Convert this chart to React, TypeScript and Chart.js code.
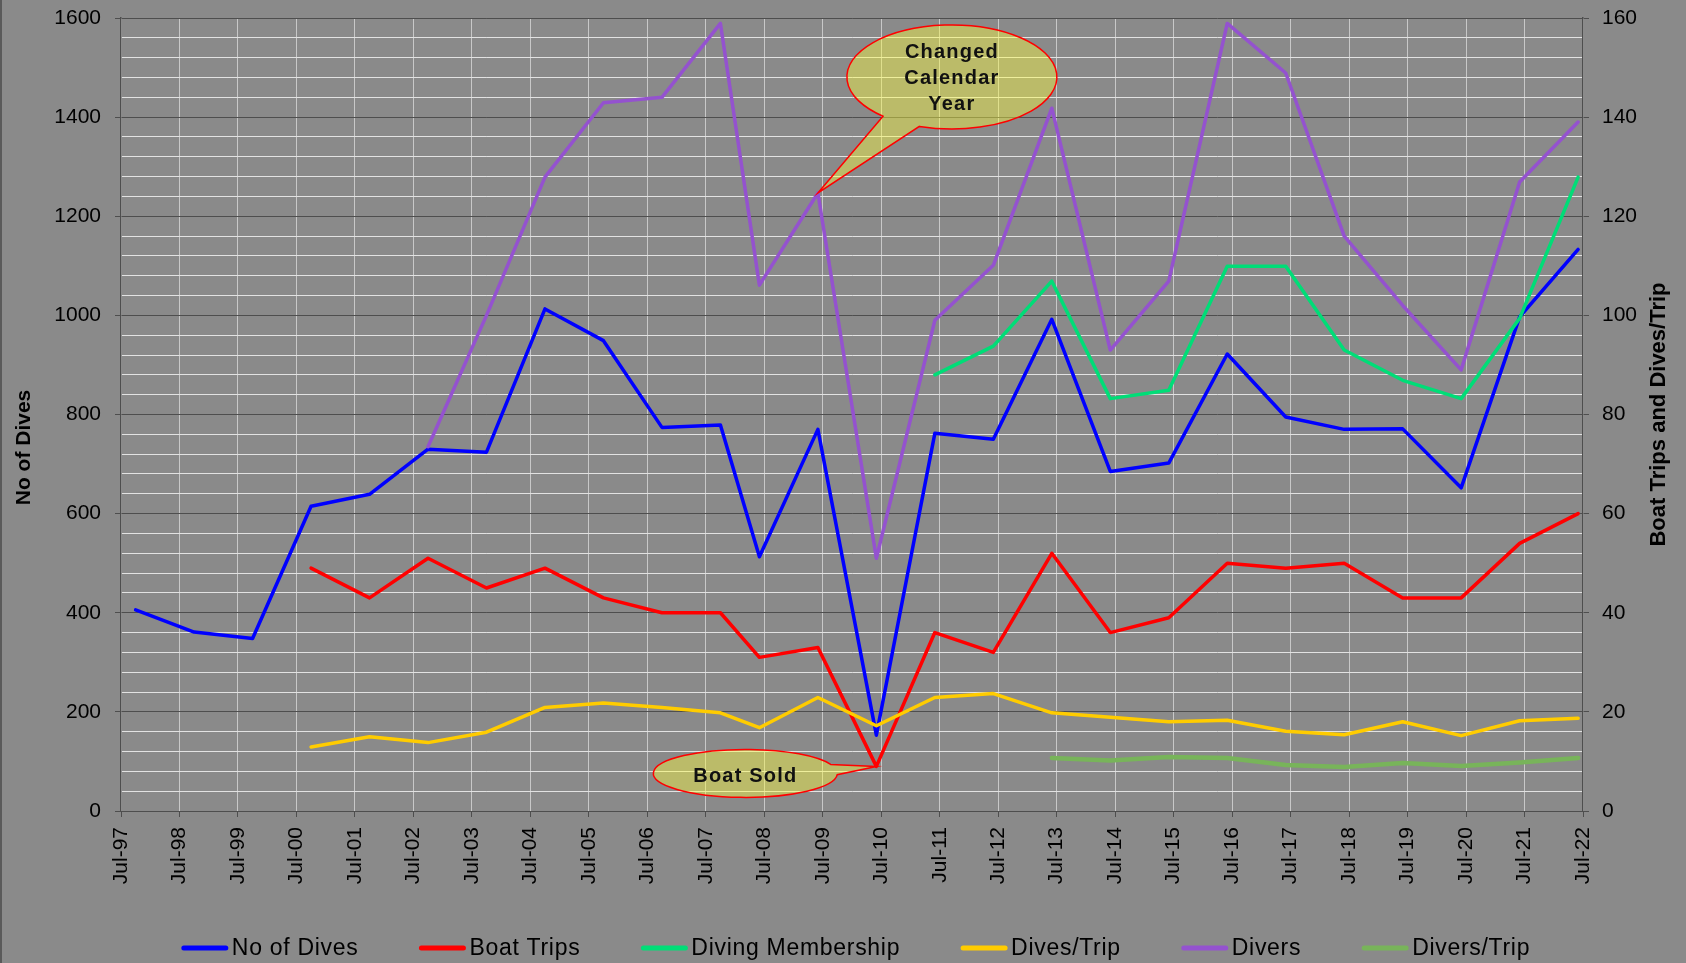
import React, { useEffect, useRef } from 'react';
import { Chart, registerables } from 'chart.js';

Chart.register(...registerables);

// ---------- DATA ----------
const periods = [
  'Oct-97', 'Oct-98', 'Oct-99', 'Oct-00', 'Oct-01', 'Oct-02', 'Oct-03', 'Oct-04', 'Oct-05', 'Oct-06', 'Oct-07',
  'Jun-08', 'Jun-09', 'Jun-10', 'Jun-11', 'Jun-12', 'Jun-13', 'Jun-14', 'Jun-15', 'Jun-16', 'Jun-17', 'Jun-18',
  'Jun-19', 'Jun-20', 'Jun-21', 'Jun-22',
];

const xTickLabels = [
  'Jul-97', 'Jul-98', 'Jul-99', 'Jul-00', 'Jul-01', 'Jul-02', 'Jul-03', 'Jul-04', 'Jul-05', 'Jul-06', 'Jul-07',
  'Jul-08', 'Jul-09', 'Jul-10', 'Jul-11', 'Jul-12', 'Jul-13', 'Jul-14', 'Jul-15', 'Jul-16', 'Jul-17', 'Jul-18',
  'Jul-19', 'Jul-20', 'Jul-21', 'Jul-22',
];

const noOfDives = [406, 361, 348, 615, 639, 730, 724, 1013, 949, 774, 779, 513, 770, 153, 762, 750, 992, 685, 702, 922, 795, 770, 771, 652, 997, 1133];
const boatTrips = [null, null, null, 49, 43, 51, 45, 49, 43, 40, 40, 31, 33, 9, 36, 32, 52, 36, 39, 50, 49, 50, 43, 43, 54, 60];
const divingMembership = [null, null, null, null, null, null, null, null, null, null, null, null, null, null, 880, 938, 1069, 832, 849, 1099, 1099, 930, 869, 832, 994, 1279];
const divesPerTrip = [null, null, null, 12.9, 15.0, 13.8, 15.9, 20.9, 21.8, 20.9, 19.8, 16.8, 22.9, 17.2, 22.9, 23.7, 19.8, 18.9, 18.0, 18.3, 16.1, 15.4, 18.0, 15.2, 18.2, 18.7];
const divers = [null, null, null, null, null, 735, 1000, 1279, 1429, 1440, 1589, 1061, 1247, 510, 990, 1101, 1418, 930, 1069, 1589, 1489, 1160, 1020, 890, 1269, 1390];
const diversPerTrip = [null, null, null, null, null, null, null, null, null, null, null, null, null, null, null, null, 10.7, 10.2, 10.9, 10.7, 9.3, 8.9, 9.7, 9.1, 9.8, 10.7];

const leftAxisTitle = 'No of Dives';
const rightAxisTitle = 'Boat Trips and Dives/Trip';

// ---------- STYLE ----------
const FONT = "'Liberation Sans', Arial, sans-serif";
const BG = '#8a8a8a';
const MAJOR = '#4e4e4e';
const MINOR = '#e2e2e2';
const VGRID = '#c8c8c8';

const MONTHS = ['Jan', 'Feb', 'Mar', 'Apr', 'May', 'Jun', 'Jul', 'Aug', 'Sep', 'Oct', 'Nov', 'Dec'];
function toYear(label: string): number {
  const [m, yy] = label.split('-');
  const y = parseInt(yy, 10);
  const year = y >= 50 ? 1900 + y : 2000 + y;
  return year + MONTHS.indexOf(m) / 12;
}

function series(values: (number | null)[]) {
  return periods.map((p, i) => ({ x: toYear(p), y: values[i] }));
}

const callouts = [
  {
    lines: ['Changed', 'Calendar', 'Year'],
    series: 'Divers',
    period: 'Jun-09',
    dx: 134, dy: -116, rx: 105, ry: 52,
    gapStart: 108, gapEnd: 131,
    lineHeight: 26, textDy: 2,
  },
  {
    lines: ['Boat Sold'],
    series: 'Boat Trips',
    period: 'Jun-10',
    dx: -131, dy: 7, rx: 92, ry: 24,
    gapStart: -22, gapEnd: 3,
    lineHeight: 26, textDy: 3,
  },
];

const calloutPlugin = {
  id: 'callouts',
  afterDatasetsDraw(chart: any) {
    const ctx = chart.ctx as CanvasRenderingContext2D;
    callouts.forEach((c) => {
      const ds = chart.data.datasets.find((d: any) => d.label === c.series);
      if (!ds) return;
      const idx = periods.indexOf(c.period);
      const pt = ds.data[idx];
      const tx = chart.scales.x.getPixelForValue(pt.x);
      const ty = chart.scales[ds.yAxisID].getPixelForValue(pt.y);
      const cx = tx + c.dx;
      const cy = ty + c.dy;
      const a1 = (c.gapStart * Math.PI) / 180;
      const a2 = (c.gapEnd * Math.PI) / 180;
      ctx.save();
      ctx.beginPath();
      ctx.moveTo(tx, ty);
      ctx.lineTo(cx + c.rx * Math.cos(a2), cy + c.ry * Math.sin(a2));
      ctx.ellipse(cx, cy, c.rx, c.ry, 0, a2, a1 + Math.PI * 2, false);
      ctx.closePath();
      ctx.fillStyle = 'rgba(255,255,60,0.42)';
      ctx.fill();
      ctx.strokeStyle = '#ff0000';
      ctx.lineWidth = 1.5;
      ctx.lineJoin = 'miter';
      ctx.stroke();
      ctx.fillStyle = '#111111';
      ctx.font = `bold 20px ${FONT}`;
      (ctx as any).letterSpacing = '1.2px';
      ctx.textAlign = 'center';
      ctx.textBaseline = 'middle';
      const n = c.lines.length;
      c.lines.forEach((line, i) => {
        ctx.fillText(line, cx, cy + c.textDy + (i - (n - 1) / 2) * c.lineHeight);
      });
      ctx.restore();
    });
  },
};

const decorPlugin = {
  id: 'decor',
  afterDraw(chart: any) {
    const ctx = chart.ctx as CanvasRenderingContext2D;
    const area = chart.chartArea;
    ctx.save();
    // axis titles
    ctx.fillStyle = '#000';
    ctx.font = `bold 21px ${FONT}`;
    ctx.textAlign = 'center';
    ctx.textBaseline = 'middle';
    const midY = (area.top + area.bottom) / 2;
    ctx.save();
    ctx.translate(22, midY + 33);
    ctx.rotate(-Math.PI / 2);
    ctx.fillText(leftAxisTitle, 0, 0);
    ctx.restore();
    ctx.save();
    ctx.translate(chart.width - 27, midY);
    ctx.rotate(-Math.PI / 2);
    ctx.font = `bold 22px ${FONT}`;
    ctx.fillText(rightAxisTitle, 0, 0);
    ctx.restore();

    // legend
    ctx.font = `23px ${FONT}`;
    (ctx as any).letterSpacing = '0.7px';
    const lineLen = 46;
    const textGap = 4;
    const itemGap = 61;
    const items = chart.data.datasets.map((d: any) => ({
      label: d.label,
      color: d.borderColor,
      w: ctx.measureText(d.label).width,
    }));
    const total = items.reduce((s: number, it: any) => s + lineLen + textGap + it.w, 0) + itemGap * (items.length - 1);
    let x = (area.left + area.right) / 2 + 4 - total / 2;
    const y = chart.height - 15;
    ctx.textAlign = 'left';
    ctx.textBaseline = 'middle';
    items.forEach((it: any) => {
      ctx.beginPath();
      ctx.strokeStyle = it.color;
      ctx.lineWidth = 5;
      ctx.lineCap = 'round';
      ctx.moveTo(x + 2, y);
      ctx.lineTo(x + lineLen - 2, y);
      ctx.stroke();
      ctx.fillStyle = '#000';
      ctx.fillText(it.label, x + lineLen + textGap, y + 1);
      x += lineLen + textGap + it.w + itemGap;
    });
    ctx.restore();
  },
};

function makeDataset(label: string, values: (number | null)[], color: string, axis: string, order: number, width = 3.5) {
  return {
    label,
    data: series(values),
    borderColor: color,
    backgroundColor: color,
    borderWidth: width,
    pointRadius: 0,
    pointHoverRadius: 0,
    tension: 0,
    spanGaps: false,
    fill: false,
    yAxisID: axis,
    order,
    borderJoinStyle: 'round' as const,
    borderCapStyle: 'round' as const,
  };
}

export default function App() {
  const canvasRef = useRef<HTMLCanvasElement | null>(null);

  useEffect(() => {
    if (!canvasRef.current) return;
    const xTickValues = xTickLabels.map((l) => toYear(l));
    const chart = new Chart(canvasRef.current, {
      type: 'line',
      data: {
        datasets: [
          makeDataset('No of Dives', noOfDives, '#0000ff', 'y', 5),
          makeDataset('Boat Trips', boatTrips, '#ff0000', 'y1', 4),
          makeDataset('Diving Membership', divingMembership, '#00dd77', 'y', 3),
          makeDataset('Dives/Trip', divesPerTrip, '#ffcc00', 'y1', 2),
          makeDataset('Divers', divers, '#9452cf', 'y', 1),
          makeDataset('Divers/Trip', diversPerTrip, '#78b45a', 'y1', 0, 4.5),
        ] as any,
      },
      options: {
        animation: false,
        responsive: true,
        maintainAspectRatio: false,
        events: [],
        layout: { padding: { top: 18, left: 0, right: 0, bottom: 0 } },
        plugins: {
          legend: { display: false },
          tooltip: { enabled: false },
          title: { display: false },
        },
        scales: {
          x: {
            type: 'linear',
            min: xTickValues[0],
            max: xTickValues[xTickValues.length - 1],
            afterBuildTicks: (scale: any) => {
              scale.ticks = xTickValues.map((v) => ({ value: v }));
            },
            afterFit: (scale: any) => {
              scale.height = 152;
              scale.paddingLeft = 0;
              scale.paddingRight = 0;
            },
            ticks: {
              autoSkip: false,
              minRotation: 90,
              maxRotation: 90,
              padding: 10,
              color: '#000',
              font: { family: FONT, size: 21 },
              callback: (_v: any, i: number) => xTickLabels[i],
            },
            grid: {
              color: VGRID,
              lineWidth: 1,
              tickColor: MAJOR,
              tickLength: 6,
            },
            border: { color: MAJOR, width: 1 },
          },
          y: {
            type: 'linear',
            position: 'left',
            min: 0,
            max: 1600,
            afterFit: (scale: any) => {
              scale.width = 119;
              scale.paddingTop = 0;
              scale.paddingBottom = 0;
            },
            ticks: {
              stepSize: 40,
              autoSkip: false,
              padding: 14,
              color: '#000',
              font: { family: FONT, size: 21 },
              callback: (v: any) => (Number(v) % 200 === 0 ? String(v) : ''),
            },
            grid: {
              color: (c: any) => (c.tick && c.tick.value % 200 === 0 ? MAJOR : MINOR),
              tickColor: (c: any) => (c.tick && c.tick.value % 200 === 0 ? MAJOR : 'rgba(0,0,0,0)'),
              lineWidth: 1,
              tickLength: 6,
            },
            border: { color: MAJOR, width: 1.5 },
          },
          y1: {
            type: 'linear',
            position: 'right',
            min: 0,
            max: 160,
            afterFit: (scale: any) => {
              scale.width = 103;
              scale.paddingTop = 0;
              scale.paddingBottom = 0;
            },
            ticks: {
              stepSize: 4,
              autoSkip: false,
              padding: 13,
              color: '#000',
              font: { family: FONT, size: 21 },
              callback: (v: any) => (Number(v) % 20 === 0 ? String(v) : ''),
            },
            grid: {
              drawOnChartArea: false,
              tickColor: (c: any) => (c.tick && c.tick.value % 20 === 0 ? MAJOR : 'rgba(0,0,0,0)'),
              tickLength: 6,
            },
            border: { color: MAJOR, width: 1.5 },
          },
        },
      } as any,
      plugins: [calloutPlugin, decorPlugin],
    });
    return () => chart.destroy();
  }, []);

  return (
    <div
      style={{
        position: 'fixed',
        left: 0,
        top: 0,
        width: '100vw',
        height: '100vh',
        background: BG,
        borderLeft: '2px solid #5a5a5a',
        boxSizing: 'border-box',
      }}
    >
      <canvas ref={canvasRef} />
    </div>
  );
}
